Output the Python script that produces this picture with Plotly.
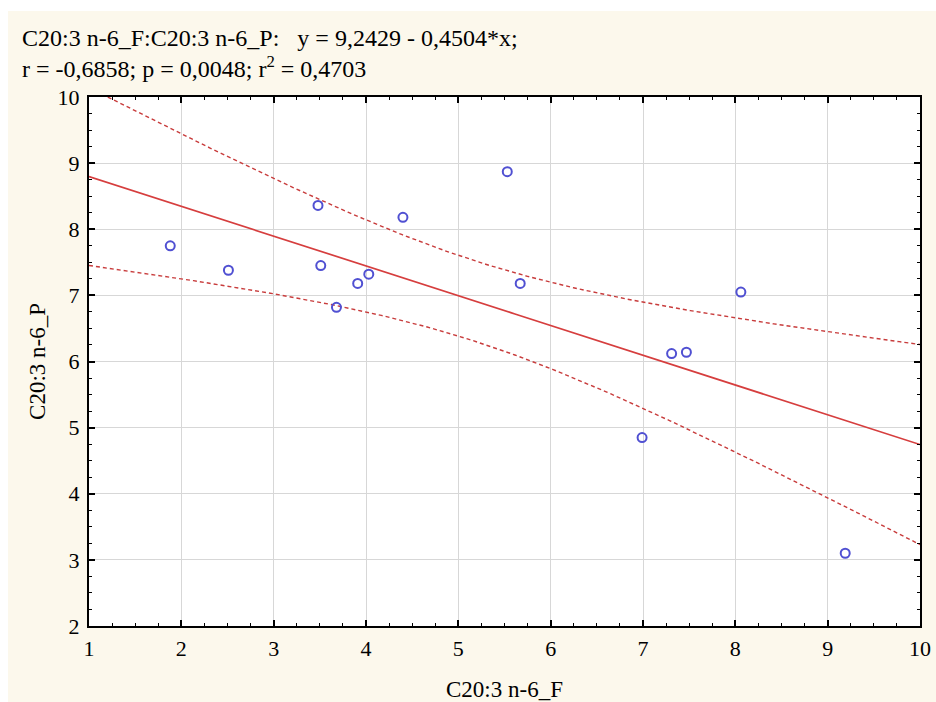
import numpy as np
import plotly.graph_objects as go

# Data
x_vals = [1.88, 2.51, 3.48, 3.51, 3.68, 3.91, 4.03, 4.40, 5.53, 5.67, 6.99, 7.31, 7.47, 8.06, 9.19]
y_vals = [7.75, 7.38, 8.36, 7.45, 6.82, 7.18, 7.32, 8.18, 8.87, 7.18, 4.85, 6.12, 6.14, 7.05, 3.10]

x_ticks = [1, 2, 3, 4, 5, 6, 7, 8, 9, 10]
y_ticks = [2, 3, 4, 5, 6, 7, 8, 9, 10]

title_line1 = "C20:3 n-6_F:C20:3 n-6_P:\u00a0\u00a0\u00a0y = 9,2429 - 0,4504*x;"
title_line2 = "r = -0,6858; p = 0,0048; r<sup>2</sup> = 0,4703"
x_title = "C20:3 n-6_F"
y_title = "C20:3 n-6_P"

# Linear regression with 95% confidence band
x = np.array(x_vals)
y = np.array(y_vals)
n = len(x)
slope, intercept = np.polyfit(x, y, 1)
resid = y - (intercept + slope * x)
s = np.sqrt(np.sum(resid ** 2) / (n - 2))
xbar = x.mean()
sxx = np.sum((x - xbar) ** 2)
t_crit = 2.1604  # t(0.975, 13)

xs = np.linspace(1, 10, 200)
ys = intercept + slope * xs
half = t_crit * s * np.sqrt(1 / n + (xs - xbar) ** 2 / sxx)

W, H = 936, 702
L, R, T, B = 89, 16, 97, 76
pw, ph = W - L - R, H - T - B

red = "rgb(214,62,62)"
dash_red = "rgb(200,60,60)"
fig = go.Figure()
fig.add_trace(go.Scatter(x=xs, y=ys + half, mode="lines",
                         line=dict(color=dash_red, width=1.4, dash="4px,3px"), hoverinfo="skip"))
fig.add_trace(go.Scatter(x=xs, y=ys - half, mode="lines",
                         line=dict(color=dash_red, width=1.4, dash="4px,3px"), hoverinfo="skip"))
fig.add_trace(go.Scatter(x=xs, y=ys, mode="lines",
                         line=dict(color=red, width=1.7), hoverinfo="skip"))
fig.add_trace(go.Scatter(x=x_vals, y=y_vals, mode="markers",
                         marker=dict(symbol="circle-open", size=9, color="rgb(80,80,210)",
                                     line=dict(width=2, color="rgb(80,80,210)"))))

font_family = "Liberation Serif"
axis_common = dict(
    automargin=False,
    showline=True, linecolor="black", linewidth=2, mirror="ticks",
    ticks="inside", ticklen=6, tickwidth=1.5, tickcolor="black",
    showgrid=True, gridcolor="rgb(215,215,215)", gridwidth=1,
    zeroline=False,
    tickfont=dict(family=font_family, size=22, color="black"),
    minor=dict(ticks="inside", ticklen=3, tickwidth=1, tickcolor="black", dtick=0.25, showgrid=False),
)

fig.update_layout(
    width=W, height=H,
    margin=dict(l=L, r=R, t=T, b=B),
    paper_bgcolor="rgb(252,248,236)",
    plot_bgcolor="white",
    showlegend=False,
    font=dict(family=font_family, color="black"),
    xaxis=dict(range=[1, 10], tickvals=x_ticks, **axis_common, ticklabelstandoff=2,
               title=dict(text=x_title, font=dict(family=font_family, size=23), standoff=20)),
    yaxis=dict(range=[2, 10], tickvals=y_ticks, **axis_common, ticklabelstandoff=3,
               title=dict(text=y_title, font=dict(family=font_family, size=23), standoff=6)),
)

# white border strips of the original picture (top and left)
fig.add_shape(type="rect", xref="paper", yref="paper",
              x0=-L / pw, x1=(W - L) / pw, y0=(ph + T - 11) / ph, y1=(ph + T) / ph,
              fillcolor="white", line=dict(width=0), layer="below")
fig.add_shape(type="rect", xref="paper", yref="paper",
              x0=-L / pw, x1=(8 - L) / pw, y0=-B / ph, y1=(ph + T) / ph,
              fillcolor="white", line=dict(width=0), layer="below")

fig.add_annotation(xref="paper", yref="paper", x=(20 - L) / pw, y=(ph + T - 23) / ph,
                   xanchor="left", yanchor="top", align="left", showarrow=False,
                   text=title_line1 + "<br>" + title_line2,
                   font=dict(family=font_family, size=24, color="black"))

fig.write_html("out.html")
